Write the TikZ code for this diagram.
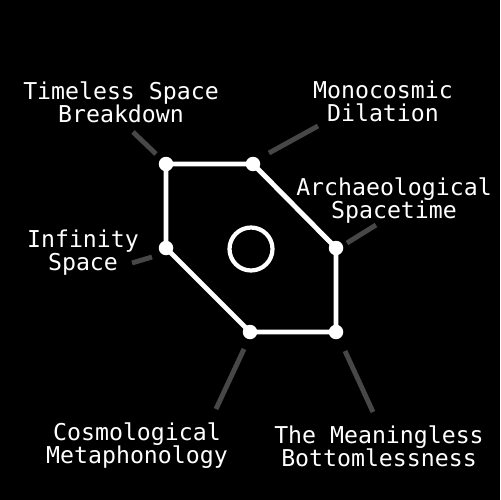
\documentclass[tikz,border=0pt]{standalone}
\usepackage{fontspec}
\setmonofont{DejaVu Sans Mono}
\usetikzlibrary{positioning}
\definecolor{Leader}{HTML}{474747}

\begin{document}
\begin{tikzpicture}[x=0.02cm, y=-0.02cm,
  dot/.style={circle, fill=white, inner sep=0pt, minimum size=0.29cm},
  ring/.style={circle, draw=white, line width=2.4pt, inner sep=0pt,
     minimum size=0.86cm},
  rim/.style={draw=white, line width=2.8pt, line join=round},
  leader/.style={draw=Leader, line width=2.8pt},
  lbl/.style={text=white, align=center, inner sep=0pt,
     font=\ttfamily\fontsize{13.2}{13.1}\selectfont}]
  \fill[black] (0,0) rectangle (500,500);
  % hexagon corners
  \foreach \n/\x/\y in {1/166/164, 2/253/164, 3/336/248, 4/336/332, 5/250/332, 6/166/248}
    \coordinate (v\n) at (\x,\y);
  \draw[rim] (v1) -- (v2) -- (v3) -- (v4) -- (v5) -- (v6) -- cycle;
  \foreach \n in {1,...,6} \node[dot] (d\n) at (v\n) {};
  \node[ring] (core) at (251,249) {};
  % labels
  \node[lbl] (l1) at (121,102) {Timeless Space\\Breakdown};
  \node[lbl] (l2) at (383,101) {Monocosmic\\Dilation};
  \node[lbl] (l3) at (394,201) {Archaeological\\Spacetime};
  \node[lbl] (l4) at (83,253) {Infinity\\Space};
  \node[lbl] (l5) at (137,446) {Cosmological\\Metaphonology};
  \node[lbl] (l6) at (379,446) {The Meaningless\\Bottomlessness};
  % leader ticks
  \foreach \n/\ax/\ay/\bx/\by in {1/156/154/133/132, 2/269/153/318/126,
      3/347/243/376/225, 4/152/257/132/263, 5/244/349/216/409, 6/345/351/373/412}{
    \coordinate (a\n) at (\ax,\ay); \coordinate (b\n) at (\bx,\by);
    \draw[leader] (a\n) -- (b\n);}
\end{tikzpicture}
\end{document}
